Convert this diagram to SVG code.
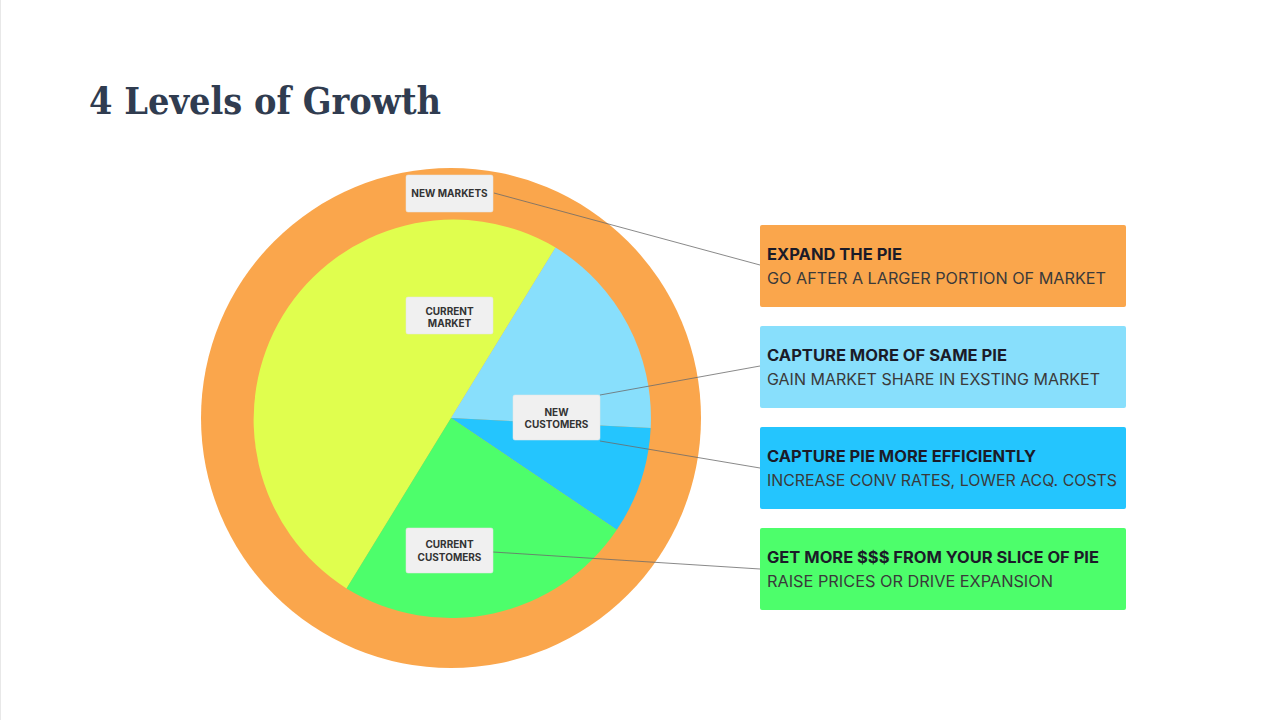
<svg xmlns="http://www.w3.org/2000/svg" width="1280" height="720" viewBox="0 0 1280 720">
<style>
.title{font-family:"DejaVu Serif",serif;font-weight:bold;font-size:38px;fill:#303c50}
.lbl{fill:#f0f0f0;stroke:#e6e6e6;stroke-width:0.5}
.lt{font-family:Inter,"Liberation Sans",sans-serif;font-weight:700;font-size:10px;fill:#333;text-anchor:middle}
.bt{font-family:Inter,"Liberation Sans",sans-serif;font-weight:700;font-size:15.5px;fill:#1b1b28}
.bs{font-family:Inter,"Liberation Sans",sans-serif;font-weight:400;font-size:15.5px;fill:#3a3a3a}
.conn{stroke:#6b6b6b;stroke-width:0.8;fill:none}
</style>
<rect x="0" y="0" width="1280" height="720" fill="#ffffff"/>
<line x1="0.5" y1="0" x2="0.5" y2="720" stroke="#e8e8e8" stroke-width="1"/>
<text class="title" x="89" y="114" textLength="352" lengthAdjust="spacingAndGlyphs">4 Levels of Growth</text>

<g id="pie">
<circle cx="451" cy="418" r="250" fill="#faa64c"/>
<path d="M451 418 L555.5 247.5 A200 200 0 0 0 346.5 588.5 Z" fill="#e0fe4e"/>
<path d="M451 418 L555.5 247.5 A200 200 0 0 1 650.7 428.1 Z" fill="#88dffc"/>
<path d="M451 418 L650.7 428.1 A200 200 0 0 1 616.8 529.8 Z" fill="#24c5fe"/>
<path d="M451 418 L616.8 529.8 A200 200 0 0 1 346.5 588.5 Z" fill="#4dfe6b"/>
</g>

<g id="connectors">
<line class="conn" x1="494" y1="193" x2="760" y2="265"/>
<line class="conn" x1="600" y1="395" x2="760" y2="366"/>
<line class="conn" x1="600" y1="441" x2="760" y2="468"/>
<line class="conn" x1="493" y1="552" x2="760" y2="569"/>
</g>

<g id="label-new-markets">
<rect class="lbl" x="406" y="175" width="87" height="37" rx="2"/>
<text class="lt" x="449.5" y="197">NEW MARKETS</text>
</g>
<g id="label-current-market">
<rect class="lbl" x="406" y="297" width="87" height="37" rx="2"/>
<text class="lt" x="449.5" y="314.5">CURRENT</text>
<text class="lt" x="449.5" y="326.5">MARKET</text>
</g>
<g id="label-new-customers">
<rect class="lbl" x="513" y="395" width="87" height="45" rx="2"/>
<text class="lt" x="556.5" y="415.5">NEW</text>
<text class="lt" x="556.5" y="427.5">CUSTOMERS</text>
</g>
<g id="label-current-customers">
<rect class="lbl" x="406" y="528" width="87" height="45" rx="2"/>
<text class="lt" x="449.5" y="548">CURRENT</text>
<text class="lt" x="449.5" y="560.5">CUSTOMERS</text>
</g>

<g id="box-expand">
<rect x="760" y="225" width="366" height="82" rx="2" fill="#faa64c"/>
<text class="bt" x="767" y="260" textLength="135" lengthAdjust="spacingAndGlyphs">EXPAND THE PIE</text>
<text class="bs" x="767" y="284" textLength="339" lengthAdjust="spacingAndGlyphs">GO AFTER A LARGER PORTION OF MARKET</text>
</g>
<g id="box-capture-more">
<rect x="760" y="326" width="366" height="82" rx="2" fill="#88dffc"/>
<text class="bt" x="767" y="361" textLength="240" lengthAdjust="spacingAndGlyphs">CAPTURE MORE OF SAME PIE</text>
<text class="bs" x="767" y="385" textLength="333" lengthAdjust="spacingAndGlyphs">GAIN MARKET SHARE IN EXSTING MARKET</text>
</g>
<g id="box-capture-efficiently">
<rect x="760" y="427" width="366" height="82" rx="2" fill="#24c5fe"/>
<text class="bt" x="767" y="462" textLength="269" lengthAdjust="spacingAndGlyphs">CAPTURE PIE MORE EFFICIENTLY</text>
<text class="bs" x="767" y="486" textLength="350" lengthAdjust="spacingAndGlyphs">INCREASE CONV RATES, LOWER ACQ. COSTS</text>
</g>
<g id="box-get-more">
<rect x="760" y="528" width="366" height="82" rx="2" fill="#4dfe6b"/>
<text class="bt" x="767" y="563" textLength="332" lengthAdjust="spacingAndGlyphs">GET MORE $$$ FROM YOUR SLICE OF PIE</text>
<text class="bs" x="767" y="587" textLength="286" lengthAdjust="spacingAndGlyphs">RAISE PRICES OR DRIVE EXPANSION</text>
</g>
</svg>
